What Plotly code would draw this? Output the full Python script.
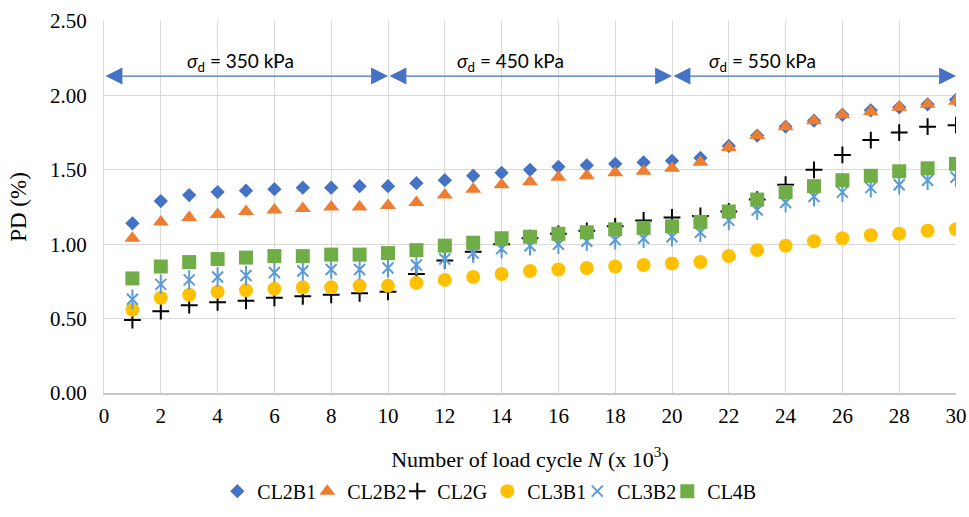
import plotly.graph_objects as go

N = list(range(1, 31))

CL2B1 = [1.14, 1.29, 1.33, 1.35, 1.36, 1.37, 1.38, 1.38, 1.39, 1.39,
         1.41, 1.43, 1.46, 1.48, 1.50, 1.52, 1.53, 1.54, 1.55, 1.56,
         1.58, 1.66, 1.73, 1.79, 1.83, 1.87, 1.90, 1.92, 1.94, 1.97]
CL2B2 = [1.04, 1.15, 1.18, 1.20, 1.22, 1.23, 1.24, 1.25, 1.25, 1.26,
         1.28, 1.33, 1.37, 1.40, 1.42, 1.45, 1.46, 1.48, 1.49, 1.51,
         1.55, 1.65, 1.73, 1.79, 1.83, 1.87, 1.89, 1.92, 1.94, 1.96]
CL2G = [0.49, 0.55, 0.59, 0.61, 0.62, 0.64, 0.65, 0.66, 0.67, 0.68,
        0.80, 0.89, 0.95, 1.00, 1.04, 1.07, 1.09, 1.12, 1.16, 1.18,
        1.19, 1.22, 1.30, 1.40, 1.50, 1.60, 1.70, 1.75, 1.79, 1.80]
CL3B1 = [0.56, 0.64, 0.66, 0.68, 0.69, 0.70, 0.71, 0.71, 0.72, 0.72,
         0.74, 0.76, 0.78, 0.80, 0.82, 0.83, 0.84, 0.85, 0.86, 0.87,
         0.88, 0.92, 0.96, 0.99, 1.02, 1.04, 1.06, 1.07, 1.09, 1.10]
CL3B2 = [0.63, 0.73, 0.76, 0.78, 0.79, 0.81, 0.82, 0.83, 0.83, 0.84,
         0.86, 0.90, 0.94, 0.97, 0.99, 1.00, 1.02, 1.03, 1.04, 1.05,
         1.08, 1.16, 1.23, 1.28, 1.32, 1.35, 1.38, 1.40, 1.43, 1.45]
CL4B = [0.77, 0.85, 0.88, 0.90, 0.91, 0.92, 0.92, 0.93, 0.93, 0.94,
        0.96, 0.99, 1.01, 1.04, 1.05, 1.07, 1.08, 1.10, 1.11, 1.12,
        1.15, 1.22, 1.30, 1.35, 1.39, 1.43, 1.46, 1.49, 1.51, 1.54]

stage_bounds = [(0, 10), (10, 20), (20, 30)]
stage_labels = ["350", "450", "550"]
stage_text_x = [4.8, 14.3, 23.2]
arrow_y = 2.13

SERIF = "Liberation Serif"

fig = go.Figure()
fig.add_trace(go.Scatter(x=N, y=CL2B1, mode="markers", name="CL2B1",
                         marker=dict(symbol="diamond", size=11, color="#4472c4")))
fig.add_trace(go.Scatter(x=N, y=CL2B2, mode="markers", name="CL2B2",
                         marker=dict(symbol="triangle-up", size=14, color="#ed7d31")))
fig.add_trace(go.Scatter(x=N, y=CL2G, mode="markers", name="CL2G",
                         marker=dict(symbol="cross-thin-open", size=12, color="black",
                                     line=dict(color="black", width=2))))
fig.add_trace(go.Scatter(x=N, y=CL3B1, mode="markers", name="CL3B1",
                         marker=dict(symbol="circle", size=14, color="#ffc000")))
fig.add_trace(go.Scatter(x=N, y=CL3B2, mode="markers", name="CL3B2",
                         legendgroup="CL3B2",
                         marker=dict(symbol="x-thin-open", size=11, color="#5b9bd5",
                                     line=dict(color="#5b9bd5", width=2))))
fig.add_trace(go.Scatter(x=N, y=CL3B2, mode="markers", name="CL3B2",
                         legendgroup="CL3B2", showlegend=False,
                         marker=dict(symbol="line-ns-open", size=14, color="#5b9bd5",
                                     line=dict(color="#5b9bd5", width=2))))
fig.add_trace(go.Scatter(x=N, y=CL4B, mode="markers", name="CL4B",
                         marker=dict(symbol="square", size=14, color="#70ad47")))

annotations = []
for (x0, x1), lab, tx in zip(stage_bounds, stage_labels, stage_text_x):
    annotations.append(dict(x=x1, y=arrow_y, ax=x0, ay=arrow_y,
                            xref="x", yref="y", axref="x", ayref="y",
                            text="", showarrow=True, arrowside="end+start",
                            arrowhead=2, startarrowhead=2,
                            arrowsize=2.6, startarrowsize=2.6,
                            arrowwidth=1.3, arrowcolor="#4472c4"))
    annotations.append(dict(x=tx, y=arrow_y, xref="x", yref="y",
                            text="<i>σ</i><sub>d</sub> = " + lab + " kPa",
                            showarrow=False, yanchor="middle", yshift=14,
                            font=dict(family="Lato", size=19, color="black")))

fig.update_layout(
    width=969, height=517,
    margin=dict(l=104, r=13, t=21, b=124, autoexpand=False),
    paper_bgcolor="white", plot_bgcolor="white",
    font=dict(family=SERIF, size=21, color="black"),
    showlegend=True,
    legend=dict(orientation="h", x=0.133, xanchor="left",
                yref="container", y=0.05, yanchor="middle",
                font=dict(family=SERIF, size=20, color="black"),
                itemwidth=30, tracegroupgap=0,
                entrywidth=45, entrywidthmode="pixels"),
    annotations=annotations,
)
fig.update_xaxes(range=[0, 30], dtick=2, tick0=0, automargin=False,
                 showgrid=True, gridcolor="#d9d9d9", gridwidth=1.3,
                 zeroline=False, showline=True, linecolor="#c8c8c8", linewidth=2,
                 ticks="", ticklabelstandoff=3,
                 tickfont=dict(family=SERIF, size=21),
                 title=dict(text="Number of load cycle <i>N</i> (x 10<sup>3</sup>)",
                            font=dict(family=SERIF, size=22), standoff=24))
fig.update_yaxes(range=[0, 2.5], dtick=0.5, tick0=0, tickformat=".2f", automargin=False,
                 showgrid=True, gridcolor="#d9d9d9", gridwidth=1.3,
                 zeroline=False, showline=True, linecolor="#d9d9d9", linewidth=1.3,
                 ticks="", ticklabelstandoff=12,
                 tickfont=dict(family=SERIF, size=21),
                 title=dict(text="PD (%)", font=dict(family=SERIF, size=23),
                            standoff=16))

fig.write_html("out.html", config={"displayModeBar": False},
               post_script="document.body.style.margin='0';document.body.style.overflow='hidden';")
